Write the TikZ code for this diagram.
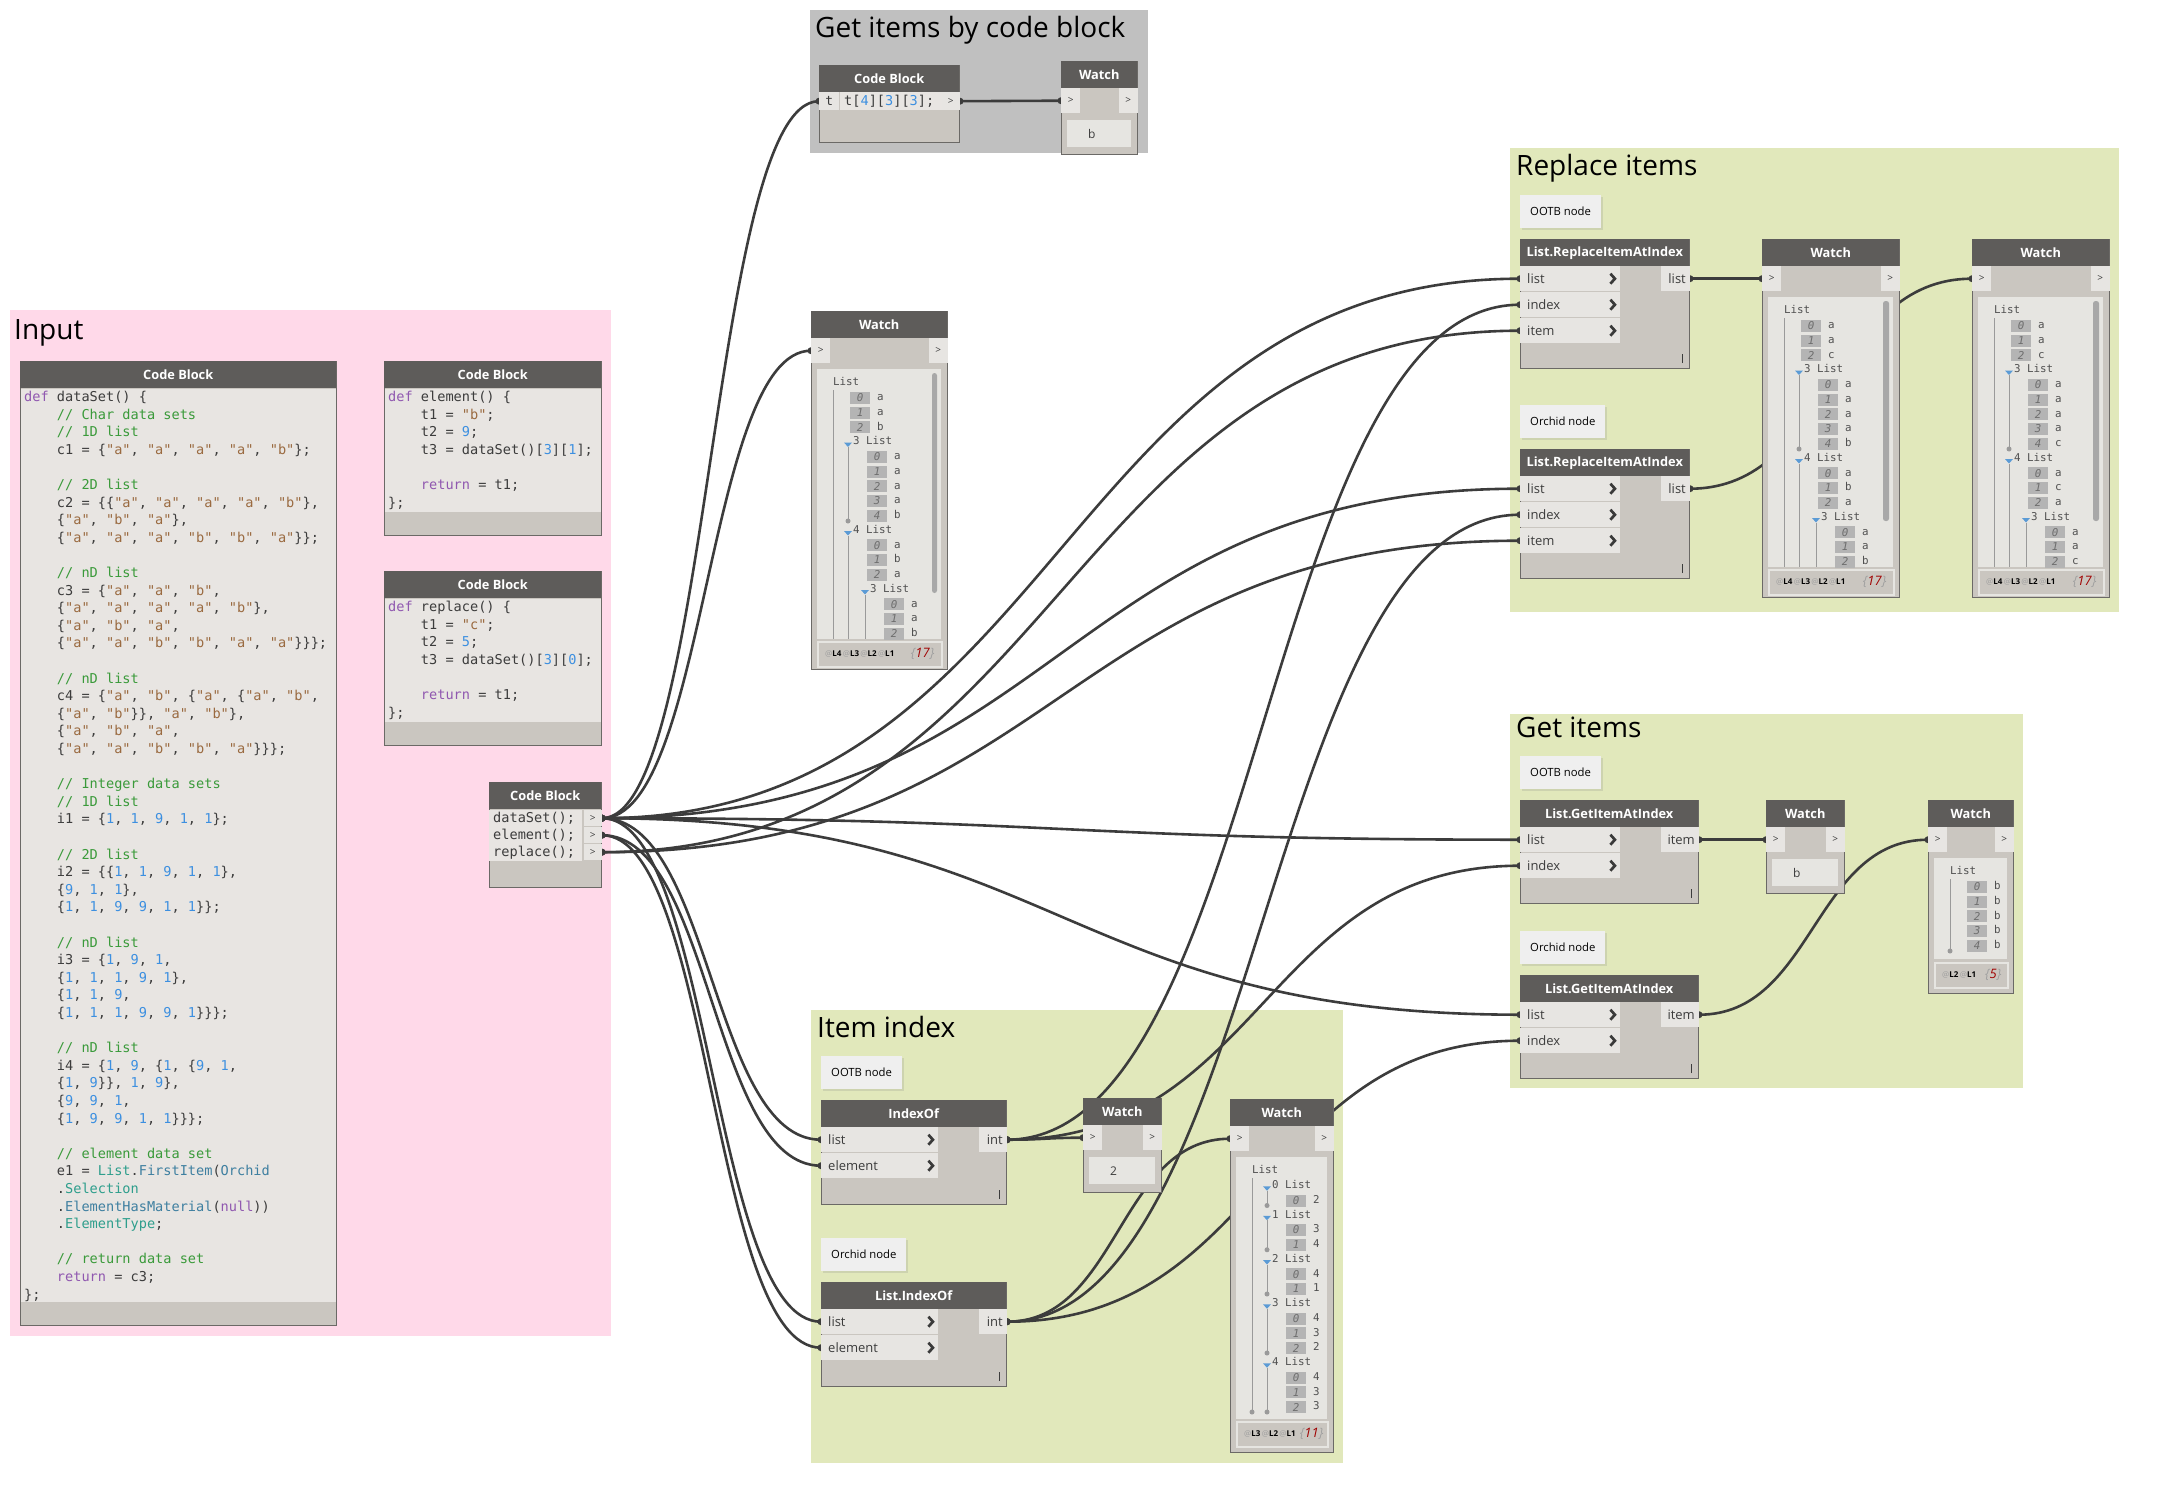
\documentclass[tikz,border=0pt]{standalone}
\usepackage{fontspec}
\setmainfont{Open Sans}
\setmonofont{DejaVu Sans Mono}
\usetikzlibrary{calc,positioning,shadows}
\pgfdeclarelayer{groups}
\pgfdeclarelayer{wires}
\pgfsetlayers{groups,wires,main}
\frenchspacing

\definecolor{pinkc}{HTML}{FFD9E9}
\definecolor{greenc}{HTML}{E1E8BB}
\definecolor{grayc}{HTML}{C0C0C0}
\definecolor{hdrc}{HTML}{5E5C5A}
\definecolor{bodyc}{HTML}{CAC6C0}
\definecolor{edgec}{HTML}{6B6966}
\definecolor{portc}{HTML}{E7E5E2}
\definecolor{codec}{HTML}{E8E5E2}
\definecolor{panelc}{HTML}{E6E5E1}
\definecolor{lblc}{HTML}{EFEFEF}
\definecolor{txtc}{HTML}{3C3C3C}
\definecolor{chevc}{HTML}{3A3A3A}
\definecolor{wirec}{HTML}{3C3C3C}
\definecolor{kwc}{HTML}{9058B0}
\definecolor{comc}{HTML}{3A9A3A}
\definecolor{strc}{HTML}{9A6A40}
\definecolor{numc}{HTML}{3C8FE0}
\definecolor{clsc}{HTML}{2E9E8C}
\definecolor{func}{HTML}{3E7FA0}
\definecolor{treec}{HTML}{505050}
\definecolor{boxc}{HTML}{B4B4B4}
\definecolor{idxc}{HTML}{6E6E6E}
\definecolor{arrc}{HTML}{5B9BD5}
\definecolor{lnc}{HTML}{9A9A9A}
\definecolor{sbc}{HTML}{A8A8A8}
\definecolor{cntc}{HTML}{A00000}
\definecolor{atc}{HTML}{A0A0A0}

% code colouring
\newcommand\qk[1]{\textcolor{kwc}{#1}}
\newcommand\qc[1]{\textcolor{comc}{#1}}
\newcommand\qs[1]{\textcolor{strc}{"#1"}}
\newcommand\qn[1]{\textcolor{numc}{#1}}
\newcommand\ql[1]{\textcolor{clsc}{#1}}
\newcommand\qf[1]{\textcolor{func}{#1}}
\newcommand\tabin{\phantom{0000}}
\newcommand\lvl[1]{\textcolor{atc}{@}\textbf{L#1}}

% watch node frame: name, x, y, width, height
\newcommand\watchframe[5]{%
  \node[body, minimum width=#4pt, minimum height=#5pt] (#1) at (#2,#3) {};
  \node[hdr, minimum width=#4pt] (#1-h) at (#1.north west) {Watch};
  \node[wport] (#1-in) at ($(#1.north west)+(0,27)$) {>};
  \node[wport, anchor=north east] (#1-out) at ($(#1.north east)+(0,27)$) {>};}

% rows of a watch tree
\newcommand\treerows[2]{%
  \foreach \rw/\lv/\ix/\vl in {#2} {
    \node[tidx] (#1-i\rw) at (39+17*\lv,72+14.75*\rw) {\ix};
    \node[tlab] (#1-v\rw) at (66+17*\lv,72+14.75*\rw) {\vl};}}
\newcommand\treesubs[2]{%
  \foreach \rw/\lv/\ix in {#2} {
    \fill[tarr] (33+17*\lv,72.5+14.75*\rw) -- ++(8,0) -- ++(-4,4.5) -- cycle;
    \node[tlab] (#1-s\rw) at (42+17*\lv,72+14.75*\rw) {\ix\ List};}}

% connector between two ports
\newcommand\wire[2]{%
  \draw[wire] let \p1=(#1), \p2=(#2), \n1={0.5*(\x2-\x1)} in
    (\p1) .. controls +(\n1,0) and +(-\n1,0) .. (\p2);
  \fill[wirec] (#1) circle[radius=3.5pt] (#2) circle[radius=3.5pt];}

\begin{document}
\begin{tikzpicture}[x=1pt, y=-1pt,
    gtitle/.style={anchor=base west, inner sep=0, font=\fontsize{28}{28}\selectfont, text=black},
    body/.style={anchor=north west, inner sep=0, fill=bodyc, draw=edgec, line width=1pt},
    hdr/.style={anchor=north west, inner sep=0, minimum height=27pt, fill=hdrc, text=white, font=\bfseries\fontsize{12.8}{12.8}\selectfont},
    inport/.style={anchor=north west, inner xsep=7pt, inner ysep=0pt, minimum height=25pt, text width=#1, fill=portc, text=txtc, align=flush left, font=\fontsize{13}{13}\selectfont},
    outport/.style={anchor=north east, inner xsep=4pt, inner ysep=0pt, minimum height=25pt, text width=#1, fill=portc, text=txtc, align=flush right, font=\fontsize{13}{13}\selectfont},
    chev/.style={draw=chevc, line width=2.7pt},
    lacing/.style={draw=txtc, line width=1pt},
    lbl/.style={anchor=north west, inner xsep=10pt, inner ysep=0pt, minimum height=33pt, fill=lblc, text=black, font=\fontsize{11.3}{11.3}\selectfont, drop shadow={shadow xshift=1.5pt, shadow yshift=-1.5pt, opacity=0.2}},
    codebg/.style={anchor=north west, inner sep=0, fill=codec},
    codetxt/.style={anchor=north west, inner sep=0, align=flush left, text=txtc, font=\ttfamily\fontsize{13.6}{17.6}\selectfont, execute at begin node=\setlength{\baselineskip}{17.6pt}},
    crow/.style={anchor=north west, inner xsep=4pt, inner ysep=0pt, minimum height=17pt, text width=#1, fill=codec, text=txtc, align=flush left, font=\ttfamily\fontsize{13.6}{13.6}\selectfont},
    cport/.style={anchor=north west, inner sep=0, minimum height=16pt, fill=portc, text=txtc, font=\fontsize{10}{10}\selectfont},
    wport/.style={anchor=north west, inner sep=0, minimum width=19pt, minimum height=25pt, fill=portc, text=txtc, font=\fontsize{10}{10}\selectfont},
    valbox/.style={anchor=north west, inner xsep=21pt, inner ysep=0pt, minimum height=27pt, text width=#1, fill=panelc, text=txtc, align=flush left, font=\fontsize{12}{12}\selectfont},
    panel/.style={anchor=north west, inner sep=0, fill=panelc},
    footbox/.style={anchor=north west, inner sep=0, minimum height=25pt, fill=bodyc, draw=panelc, line width=1.5pt},
    foot/.style={anchor=west, inner sep=0, font=\fontsize{8}{8}\selectfont, text=black},
    cnt/.style={anchor=east, inner sep=0, font=\itshape\fontsize{13}{13}\selectfont, text=atc},
    tlab/.style={anchor=west, inner sep=0, text height=7.9pt, text depth=2.4pt, text=treec, font=\ttfamily\fontsize{10.8}{10.8}\selectfont},
    tidx/.style={anchor=west, inner sep=0, minimum width=20pt, minimum height=12pt, fill=boxc, text=idxc, font=\ttfamily\itshape\fontsize{10.8}{10.8}\selectfont},
    tarr/.style={fill=arrc},
    tline/.style={draw=lnc, line width=1pt},
    tdot/.style={fill=lnc},
    sbar/.style={fill=sbc, rounded corners=2.5pt},
    wire/.style={draw=wirec, line width=2.6pt}]

  \useasboundingbox (0,0) rectangle (2170,1494);

  \begin{pgfonlayer}{groups}
    \fill[white] (0,0) rectangle (2170,1494);
    \fill[pinkc] (10,310) rectangle (611,1336);
    \fill[grayc] (810,10) rectangle (1148,153);
    \fill[greenc] (1510,148) rectangle (2119,612);
    \fill[greenc] (1510,714) rectangle (2023,1088);
    \fill[greenc] (811,1010) rectangle (1343,1463);
  \end{pgfonlayer}

  \node[gtitle] (tIn) at (14,339) {Input};
  \node[gtitle] (tCode) at (815,37) {Get items by code block};
  \node[gtitle] (tRep) at (1516,175) {Replace items};
  \node[gtitle] (tGet) at (1516,737) {Get items};
  \node[gtitle] (tIdx) at (817,1037) {Item index};

  % input code blocks
  \node[body, minimum width=316pt, minimum height=964pt] (cbd) at (20,361) {};
  \node[codebg, minimum width=315pt, minimum height=913pt] (cbd-bg) at ($(cbd.north west)+(0.5,27.5)$) {};
  \node[hdr, minimum width=316pt] (cbd-h) at (cbd.north west) {Code Block};
  \node[codetxt, text width=308pt] (cbd-txt) at ($(cbd.north west)+(4,30)$) {%
    \qk{def} dataSet() \{\\
    \tabin\qc{// Char data sets}\\
    \tabin\qc{// 1D list}\\
    \tabin c1 = \{\qs{a}, \qs{a}, \qs{a}, \qs{a}, \qs{b}\};\\
    \mbox{}\\
    \tabin\qc{// 2D list}\\
    \tabin c2 = \{\{\qs{a}, \qs{a}, \qs{a}, \qs{a}, \qs{b}\},\\
    \tabin\{\qs{a}, \qs{b}, \qs{a}\},\\
    \tabin\{\qs{a}, \qs{a}, \qs{a}, \qs{b}, \qs{b}, \qs{a}\}\};\\
    \mbox{}\\
    \tabin\qc{// nD list}\\
    \tabin c3 = \{\qs{a}, \qs{a}, \qs{b},\\
    \tabin\{\qs{a}, \qs{a}, \qs{a}, \qs{a}, \qs{b}\},\\
    \tabin\{\qs{a}, \qs{b}, \qs{a},\\
    \tabin\{\qs{a}, \qs{a}, \qs{b}, \qs{b}, \qs{a}, \qs{a}\}\}\};\\
    \mbox{}\\
    \tabin\qc{// nD list}\\
    \tabin c4 = \{\qs{a}, \qs{b}, \{\qs{a}, \{\qs{a}, \qs{b},\\
    \tabin\{\qs{a}, \qs{b}\}\}, \qs{a}, \qs{b}\},\\
    \tabin\{\qs{a}, \qs{b}, \qs{a},\\
    \tabin\{\qs{a}, \qs{a}, \qs{b}, \qs{b}, \qs{a}\}\}\};\\
    \mbox{}\\
    \tabin\qc{// Integer data sets}\\
    \tabin\qc{// 1D list}\\
    \tabin i1 = \{\qn{1}, \qn{1}, \qn{9}, \qn{1}, \qn{1}\};\\
    \mbox{}\\
    \tabin\qc{// 2D list}\\
    \tabin i2 = \{\{\qn{1}, \qn{1}, \qn{9}, \qn{1}, \qn{1}\},\\
    \tabin\{\qn{9}, \qn{1}, \qn{1}\},\\
    \tabin\{\qn{1}, \qn{1}, \qn{9}, \qn{9}, \qn{1}, \qn{1}\}\};\\
    \mbox{}\\
    \tabin\qc{// nD list}\\
    \tabin i3 = \{\qn{1}, \qn{9}, \qn{1},\\
    \tabin\{\qn{1}, \qn{1}, \qn{1}, \qn{9}, \qn{1}\},\\
    \tabin\{\qn{1}, \qn{1}, \qn{9},\\
    \tabin\{\qn{1}, \qn{1}, \qn{1}, \qn{9}, \qn{9}, \qn{1}\}\}\};\\
    \mbox{}\\
    \tabin\qc{// nD list}\\
    \tabin i4 = \{\qn{1}, \qn{9}, \{\qn{1}, \{\qn{9}, \qn{1},\\
    \tabin\{\qn{1}, \qn{9}\}\}, \qn{1}, \qn{9}\},\\
    \tabin\{\qn{9}, \qn{9}, \qn{1},\\
    \tabin\{\qn{1}, \qn{9}, \qn{9}, \qn{1}, \qn{1}\}\}\};\\
    \mbox{}\\
    \tabin\qc{// element data set}\\
    \tabin e1 = \ql{List}.\qf{FirstItem}(\qf{Orchid}\\
    \tabin.\ql{Selection}\\
    \tabin.\qf{ElementHasMaterial}(\qk{null}))\\
    \tabin.\ql{ElementType};\\
    \mbox{}\\
    \tabin\qc{// return data set}\\
    \tabin\qk{return} = c3;\\
    \};};

  \node[body, minimum width=217pt, minimum height=174pt] (cbe) at (384,361) {};
  \node[codebg, minimum width=216pt, minimum height=123pt] (cbe-bg) at ($(cbe.north west)+(0.5,27.5)$) {};
  \node[hdr, minimum width=217pt] (cbe-h) at (cbe.north west) {Code Block};
  \node[codetxt, text width=208pt] (cbe-txt) at ($(cbe.north west)+(4,30)$) {%
    \qk{def} element() \{\\
    \tabin t1 = \qs{b};\\
    \tabin t2 = \qn{9};\\
    \tabin t3 = dataSet()[\qn{3}][\qn{1}];\\
    \mbox{}\\
    \tabin\qk{return} = t1;\\
    \};};

  \node[body, minimum width=217pt, minimum height=174pt] (cbr) at (384,571) {};
  \node[codebg, minimum width=216pt, minimum height=123pt] (cbr-bg) at ($(cbr.north west)+(0.5,27.5)$) {};
  \node[hdr, minimum width=217pt] (cbr-h) at (cbr.north west) {Code Block};
  \node[codetxt, text width=208pt] (cbr-txt) at ($(cbr.north west)+(4,30)$) {%
    \qk{def} replace() \{\\
    \tabin t1 = \qs{c};\\
    \tabin t2 = \qn{5};\\
    \tabin t3 = dataSet()[\qn{3}][\qn{0}];\\
    \mbox{}\\
    \tabin\qk{return} = t1;\\
    \};};

  \node[body, minimum width=112pt, minimum height=105pt] (cbc) at (489,782) {};
  \node[hdr, minimum width=112pt] (cbc-h) at (cbc.north west) {Code Block};
  \foreach \f [count=\i] in {dataSet,element,replace} {
    \node[crow=85pt] (cbc-c\i) at ($(cbc.north west)+(0,11+17*\i)$) {\f();};
    \node[cport, minimum width=18pt, anchor=north east] (cbc-o\i) at ($(cbc.north east)+(0,11+17*\i)$) {>};}

  % get items by code block
  \node[body, minimum width=140pt, minimum height=77pt] (cbt) at (819,65) {};
  \node[hdr, minimum width=140pt] (cbt-h) at (cbt.north west) {Code Block};
  \node[cport, minimum width=20pt, minimum height=18pt, font=\ttfamily\fontsize{13}{13}\selectfont] (cbt-in) at ($(cbt.north west)+(0,27)$) {t};
  \node[crow=95pt, minimum height=18pt] (cbt-code) at ($(cbt.north west)+(21,27)$) {t[\qn{4}][\qn{3}][\qn{3}];};
  \node[cport, minimum width=18pt, minimum height=18pt, anchor=north east] (cbt-out) at ($(cbt.north east)+(0,27)$) {>};

  \watchframe{wT}{1061}{61}{76}{93}
  \node[valbox=22pt, minimum width=64pt] (wT-v) at ($(wT.north west)+(6,59)$) {b};

  % watch of the data set
  \watchframe{wM}{811}{311}{136}{358}
  \node[panel, minimum width=124pt, minimum height=270pt] (wM-p) at ($(wM.north west)+(6,58)$) {};
  \node[footbox, minimum width=124pt] (wM-f) at ($(wM.north west)+(6,330)$) {};
  \node[foot] (wM-lv) at ($(wM-f.west)+(8,0)$) {\lvl{4}\,\lvl{3}\,\lvl{2}\,\lvl{1}};
  \node[cnt] (wM-n) at ($(wM-f.east)+(-8,0)$) {\{\textcolor{cntc}{17}\}};
  \begin{scope}[shift={(wM.north west)}]
    \fill[sbar] (121,62) rectangle (126,282);
    \node[tlab] (wM-t) at (22,72) {List};
    \treerows{wM}{1/0/0/a, 2/0/1/a, 3/0/2/b, 5/1/0/a, 6/1/1/a, 7/1/2/a, 8/1/3/a, 9/1/4/b, 11/1/0/a, 12/1/1/b, 13/1/2/a, 15/2/0/a, 16/2/1/a, 17/2/2/b}
    \treesubs{wM}{4/0/3, 10/0/4, 14/1/3}
    \draw[tline] (22,79) -- (22,328);
    \draw[tline] (37,136) -- (37,210); \fill[tdot] (37,210) circle[radius=2.5pt];
    \draw[tline] (37,225) -- (37,328);
    \draw[tline] (54,284) -- (54,328);
  \end{scope}

  % replace items
  \node[lbl] (lRepO) at (1520,195) {OOTB node};
  \node[lbl] (lRepC) at (1520,405) {Orchid node};
  \foreach \n/\y in {ria1/239, ria2/449} {
    \node[body, minimum width=169pt, minimum height=129pt] (\n) at (1520,\y) {};
    \node[hdr, minimum width=169pt] (\n-h) at (\n.north west) {List.ReplaceItemAtIndex};
    \foreach \p [count=\i] in {list,index,item} {
      \node[inport=86pt] (\n-\p) at ($(\n.north west)+(0,1+26*\i)$) {\p};
      \draw[chev] ($(\n-\p.east)+(-10,-5)$) -- ++(4.5,5) -- ++(-4.5,5);}
    \node[outport=21pt] (\n-out) at ($(\n.north east)+(0,27)$) {list};
    \draw[lacing] ($(\n.south east)+(-8,-6)$) -- ++(0,-9);}

  \foreach \w/\x in {wA/1762, wB/1972} {
    \watchframe{\w}{\x}{239}{137}{358}
    \node[panel, minimum width=125pt, minimum height=270pt] (\w-p) at ($(\w.north west)+(6,58)$) {};
    \node[footbox, minimum width=125pt] (\w-f) at ($(\w.north west)+(6,330)$) {};
    \node[foot] (\w-lv) at ($(\w-f.west)+(8,0)$) {\lvl{4}\,\lvl{3}\,\lvl{2}\,\lvl{1}};
    \node[cnt] (\w-n) at ($(\w-f.east)+(-8,0)$) {\{\textcolor{cntc}{17}\}};}
  \begin{scope}[shift={(wA.north west)}]
    \fill[sbar] (121,62) rectangle (127,282);
    \node[tlab] (wA-t) at (22,72) {List};
    \treerows{wA}{1/0/0/a, 2/0/1/a, 3/0/2/c, 5/1/0/a, 6/1/1/a, 7/1/2/a, 8/1/3/a, 9/1/4/b, 11/1/0/a, 12/1/1/b, 13/1/2/a, 15/2/0/a, 16/2/1/a, 17/2/2/b}
    \treesubs{wA}{4/0/3, 10/0/4, 14/1/3}
    \draw[tline] (22,79) -- (22,328);
    \draw[tline] (37,136) -- (37,210); \fill[tdot] (37,210) circle[radius=2.5pt];
    \draw[tline] (37,225) -- (37,328);
    \draw[tline] (54,284) -- (54,328);
  \end{scope}
  \begin{scope}[shift={(wB.north west)}]
    \fill[sbar] (121,62) rectangle (127,282);
    \node[tlab] (wB-t) at (22,72) {List};
    \treerows{wB}{1/0/0/a, 2/0/1/a, 3/0/2/c, 5/1/0/a, 6/1/1/a, 7/1/2/a, 8/1/3/a, 9/1/4/c, 11/1/0/a, 12/1/1/c, 13/1/2/a, 15/2/0/a, 16/2/1/a, 17/2/2/c}
    \treesubs{wB}{4/0/3, 10/0/4, 14/1/3}
    \draw[tline] (22,79) -- (22,328);
    \draw[tline] (37,136) -- (37,210); \fill[tdot] (37,210) circle[radius=2.5pt];
    \draw[tline] (37,225) -- (37,328);
    \draw[tline] (54,284) -- (54,328);
  \end{scope}

  % get items
  \node[lbl] (lGetO) at (1520,756) {OOTB node};
  \node[lbl] (lGetC) at (1520,931) {Orchid node};
  \foreach \n/\y in {gia1/800, gia2/975} {
    \node[body, minimum width=178pt, minimum height=103pt] (\n) at (1520,\y) {};
    \node[hdr, minimum width=178pt] (\n-h) at (\n.north west) {List.GetItemAtIndex};
    \foreach \p [count=\i] in {list,index} {
      \node[inport=86pt] (\n-\p) at ($(\n.north west)+(0,1+26*\i)$) {\p};
      \draw[chev] ($(\n-\p.east)+(-10,-5)$) -- ++(4.5,5) -- ++(-4.5,5);}
    \node[outport=30pt] (\n-out) at ($(\n.north east)+(0,27)$) {item};
    \draw[lacing] ($(\n.south east)+(-8,-6)$) -- ++(0,-9);}

  \watchframe{wC}{1766}{800}{78}{93}
  \node[valbox=24pt, minimum width=66pt] (wC-v) at ($(wC.north west)+(6,59)$) {b};

  \watchframe{wD}{1928}{800}{85}{193}
  \node[panel, minimum width=73pt, minimum height=101pt] (wD-p) at ($(wD.north west)+(6,58)$) {};
  \node[footbox, minimum width=73pt] (wD-f) at ($(wD.north west)+(6,162)$) {};
  \node[foot] (wD-lv) at ($(wD-f.west)+(8,0)$) {\lvl{2}\,\lvl{1}};
  \node[cnt] (wD-n) at ($(wD-f.east)+(-7,0)$) {\{\textcolor{cntc}{5}\}};
  \begin{scope}[shift={(wD.north west)}]
    \node[tlab] (wD-t) at (22,72) {List};
    \treerows{wD}{1/0/0/b, 2/0/1/b, 3/0/2/b, 4/0/3/b, 5/0/4/b}
    \draw[tline] (22,79) -- (22,151); \fill[tdot] (22,151) circle[radius=2.5pt];
  \end{scope}

  % item index
  \node[lbl] (lIdxO) at (821,1056) {OOTB node};
  \node[lbl] (lIdxC) at (821,1238) {Orchid node};
  \foreach \n/\y/\t in {iof1/1100/IndexOf, iof2/1282/List.IndexOf} {
    \node[body, minimum width=185pt, minimum height=104pt] (\n) at (821,\y) {};
    \node[hdr, minimum width=185pt] (\n-h) at (\n.north west) {\t};
    \foreach \p [count=\i] in {list,element} {
      \node[inport=103pt] (\n-\p) at ($(\n.north west)+(0,1+26*\i)$) {\p};
      \draw[chev] ($(\n-\p.east)+(-10,-5)$) -- ++(4.5,5) -- ++(-4.5,5);}
    \node[outport=20pt] (\n-out) at ($(\n.north east)+(0,27)$) {int};
    \draw[lacing] ($(\n.south east)+(-8,-6)$) -- ++(0,-9);}

  \watchframe{wE}{1083}{1098}{78}{94}
  \node[valbox=24pt, minimum width=66pt] (wE-v) at ($(wE.north west)+(6,59)$) {2};

  \watchframe{wF}{1230}{1099}{103}{353}
  \node[panel, minimum width=91pt, minimum height=262pt] (wF-p) at ($(wF.north west)+(6,58)$) {};
  \node[footbox, minimum width=91pt] (wF-f) at ($(wF.north west)+(6,322)$) {};
  \node[foot] (wF-lv) at ($(wF-f.west)+(8,0)$) {\lvl{3}\,\lvl{2}\,\lvl{1}};
  \node[cnt] (wF-n) at ($(wF-f.east)+(-5,0)$) {\{\textcolor{cntc}{11}\}};
  \begin{scope}[shift={(wF.north west)}]
    \node[tlab] (wF-t) at (22,72) {List};
    \treesubs{wF}{1/0/0, 3/0/1, 6/0/2, 9/0/3, 13/0/4}
    \treerows{wF}{2/1/0/2, 4/1/0/3, 5/1/1/4, 7/1/0/4, 8/1/1/1, 10/1/0/4, 11/1/1/3, 12/1/2/2, 14/1/0/4, 15/1/1/3, 16/1/2/3}
    \draw[tline] (22,79) -- (22,313); \fill[tdot] (22,313) circle[radius=2.5pt];
    \foreach \s/\e in {1/2, 3/5, 6/8, 9/12, 13/16} {
      \draw[tline] (37,77+14.75*\s) -- (37,77+14.75*\e);
      \fill[tdot] (37,77+14.75*\e) circle[radius=2.5pt];}
  \end{scope}

  % connectors
  \begin{pgfonlayer}{wires}
    \foreach \dst in {cbt-in, wM-in, ria1-list, ria2-list, gia1-list, gia2-list, iof1-list, iof2-list}
      {\wire{cbc-o1.east}{\dst.west}}
    \foreach \dst in {iof1-element, iof2-element}
      {\wire{cbc-o2.east}{\dst.west}}
    \foreach \dst in {ria1-item, ria2-item}
      {\wire{cbc-o3.east}{\dst.west}}
    \foreach \dst in {wE-in, gia1-index, ria1-index}
      {\wire{iof1-out.east}{\dst.west}}
    \foreach \dst in {wF-in, gia2-index, ria2-index}
      {\wire{iof2-out.east}{\dst.west}}
    \wire{cbt-out.east}{wT-in.west}
    \wire{ria1-out.east}{wA-in.west}
    \wire{ria2-out.east}{wB-in.west}
    \wire{gia1-out.east}{wC-in.west}
    \wire{gia2-out.east}{wD-in.west}
  \end{pgfonlayer}
\end{tikzpicture}
\end{document}
